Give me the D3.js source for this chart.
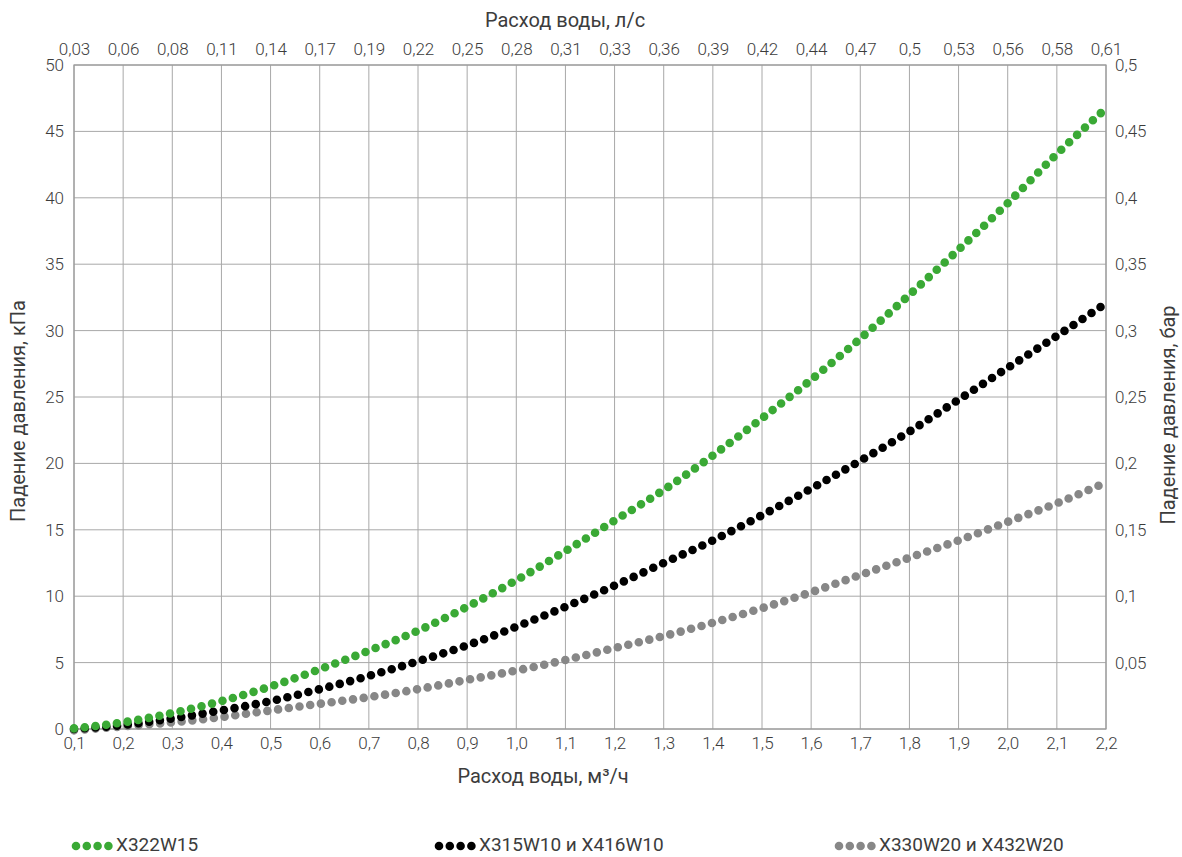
<!DOCTYPE html>
<html><head><meta charset="utf-8">
<script src="https://cdn.jsdelivr.net/npm/d3@7"></script>
<style>
body{margin:0;background:#fff}
text{font-family:Roboto,"DejaVu Sans",sans-serif;fill:#3c3c3c}
</style>
</head><body>
<svg id="c" width="1182" height="857"></svg>
<script>
// ---- data ----
const flow = [0.1,0.2,0.3,0.4,0.5,0.6,0.7,0.8,0.9,1.0,1.1,1.2,1.3,1.4,1.5,1.6,1.7,1.8,1.9,2.0,2.1,2.19];
const greenValues = [0.05,0.5,1.2,2.1,3.2,4.5,5.9,7.4,9.2,11.2,13.4,15.7,18.0,20.6,23.4,26.3,29.4,32.7,36.1,39.6,43.3,46.4];
const blackValues = [0.0,0.3,0.8,1.4,2.1,3.0,4.0,5.1,6.3,7.7,9.2,10.8,12.5,14.2,16.1,18.1,20.2,22.4,24.8,27.2,29.6,31.8];
const grayValues  = [-0.1,0.2,0.5,0.9,1.4,1.9,2.4,3.0,3.7,4.4,5.2,6.1,7.0,8.0,9.1,10.3,11.6,12.9,14.2,15.6,17.0,18.4];
const seriesNames = ["X322W15","X315W10 и X416W10","X330W20 и X432W20"];
const seriesColors = ["#3aa935","#000000","#878787"];
const xTicks = [0.1,0.2,0.3,0.4,0.5,0.6,0.7,0.8,0.9,1.0,1.1,1.2,1.3,1.4,1.5,1.6,1.7,1.8,1.9,2.0,2.1,2.2];
const bottomLabels = ["0,1","0,2","0,3","0,4","0,5","0,6","0,7","0,8","0,9","1,0","1,1","1,2","1,3","1,4","1,5","1,6","1,7","1,8","1,9","2,0","2,1","2,2"];
const topLabels = ["0,03","0,06","0,08","0,11","0,14","0,17","0,19","0,22","0,25","0,28","0,31","0,33","0,36","0,39","0,42","0,44","0,47","0,5","0,53","0,56","0,58","0,61"];
const leftTicks = [0,5,10,15,20,25,30,35,40,45,50];
const rightTicks = [0.05,0.1,0.15,0.2,0.25,0.3,0.35,0.4,0.45,0.5];
const rightLabels = ["0,05","0,1","0,15","0,2","0,25","0,3","0,35","0,4","0,45","0,5"];

// ---- layout ----
const L = 74, R = 1106, T = 65, B = 729;
const svg = d3.select("#c");
const x = d3.scaleLinear().domain([0.1,2.2]).range([L,R]);
const y = d3.scaleLinear().domain([0,50]).range([B,T]);
const y2 = d3.scaleLinear().domain([0,0.5]).range([B,T]);

// grid
const grid = svg.append("g");
grid.selectAll("line.v").data(xTicks).join("line")
  .attr("x1",d=>x(d)).attr("x2",d=>x(d)).attr("y1",T).attr("y2",B)
  .attr("stroke","#a8a8a8").attr("stroke-width",1);
grid.selectAll("line.h").data(leftTicks).join("line")
  .attr("class","h")
  .attr("x1",L).attr("x2",R).attr("y1",d=>y(d)).attr("y2",d=>y(d))
  .attr("stroke","#a8a8a8").attr("stroke-width",1);
svg.append("rect").attr("x",L).attr("y",T).attr("width",R-L).attr("height",B-T)
  .attr("fill","none").attr("stroke","#9a9a9a").attr("stroke-width",1.2);

// axes
function styleAxis(g){ g.select(".domain").remove(); g.selectAll("line").remove();
  g.selectAll("text").style("font-size","17px").style("font-family","Roboto,sans-serif").attr("fill","#3c3c3c").style("font-weight","300"); }
svg.append("g").attr("transform",`translate(0,${B})`)
  .call(d3.axisBottom(x).tickValues(xTicks).tickSize(0).tickPadding(8).tickFormat((d,i)=>bottomLabels[i]))
  .call(styleAxis);
svg.append("g").attr("transform",`translate(0,${T})`)
  .call(d3.axisTop(x).tickValues(xTicks).tickSize(0).tickPadding(10).tickFormat((d,i)=>topLabels[i]))
  .call(styleAxis);
svg.append("g").attr("transform",`translate(${L},0)`)
  .call(d3.axisLeft(y).tickValues(leftTicks).tickSize(0).tickPadding(10).tickFormat(d=>String(d)))
  .call(styleAxis);
svg.append("g").attr("transform",`translate(${R},0)`)
  .call(d3.axisRight(y2).tickValues(rightTicks).tickSize(0).tickPadding(9).tickFormat((d,i)=>rightLabels[i]))
  .call(styleAxis);

// titles
const tstyle = s=>s.style("font-size","20px").style("font-weight","400").attr("fill","#3c3c3c");
svg.append("text").attr("x",565).attr("y",27).attr("text-anchor","middle").text("Расход воды, л/с").call(tstyle);
svg.append("text").attr("x",543).attr("y",783).attr("text-anchor","middle").text("Расход воды, м³/ч").call(tstyle);
svg.append("text").attr("transform","translate(25,411) rotate(-90)").attr("text-anchor","middle").text("Падение давления, кПа").call(tstyle);
svg.append("text").attr("transform","translate(1175,415) rotate(-90)").attr("text-anchor","middle").text("Падение давления, бар").call(tstyle);

// series (dotted lines)
const allValues = [greenValues, blackValues, grayValues];
const line = d3.line().x(d=>x(d[0])).y(d=>y(d[1])).curve(d3.curveMonotoneX);
[2,1,0].forEach(i=>{
  const pts = flow.map((f,j)=>[f, allValues[i][j]]);
  svg.append("path").attr("d",line(pts)).attr("fill","none")
    .attr("stroke",seriesColors[i]).attr("stroke-width",8.6)
    .attr("stroke-linecap","round").attr("stroke-dasharray","0 10.8");
});

// legend
const legendX = [72,435,835];
const lg = svg.append("g");
seriesNames.forEach((n,i)=>{
  for(let k=0;k<4;k++){
    lg.append("circle").attr("cx",legendX[i]+4+k*10.8).attr("cy",846).attr("r",4.3).attr("fill",seriesColors[i]);
  }
  lg.append("text").attr("x",legendX[i]+44).attr("y",851).text(n)
    .style("font-size","19px").attr("fill","#3c3c3c");
});
</script>
</body></html>
